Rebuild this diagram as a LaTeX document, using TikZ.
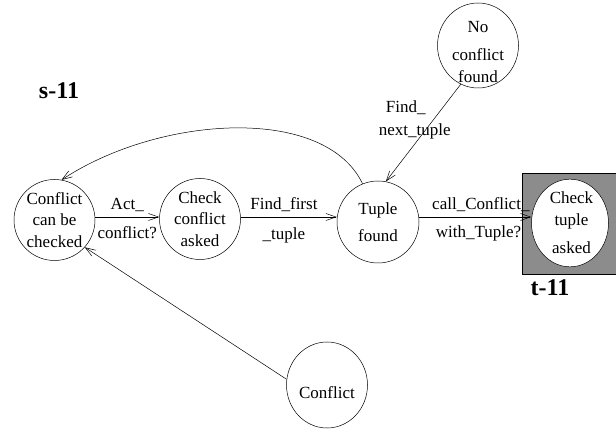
\documentclass[tikz,border=0pt]{standalone}
\usepackage{fontspec}
\setmainfont{Liberation Serif}
\usetikzlibrary{arrows.meta,shapes.geometric}
\begin{document}
\begin{tikzpicture}[x=1pt,y=-1pt,
  state/.style={draw,circle,minimum size=81pt,inner sep=0pt,align=center,font=\fontsize{17}{21.5}\selectfont,fill=white,line width=0.5pt},
  lbl/.style={font=\fontsize{17}{20}\selectfont,inner sep=0pt},
  big/.style={font=\bfseries\fontsize{24}{26}\selectfont},
  arr/.style={-{Straight Barb[length=10pt,width=7pt]},line width=0.5pt}]
\useasboundingbox (0,0) rectangle (616,430);
\fill[black!45,draw=black,line width=0.5pt] (522,173) rectangle (616,274);
\node[state] (ccc) at (54.5,220) {Conflict\\can be\\checked};
\node[state] (cca) at (200,219) {Check\\conflict\\asked};
\node[state,minimum size=82pt] (tf) at (378,222) {Tuple\\[5pt]found};
\node[state,ellipse,minimum width=81pt,minimum height=85pt,align=none] (ncf) at (478,45.5) {\raisebox{-12pt}[0pt][0pt]{\begin{tabular}{@{}c@{}}No\\[7pt]conflict\\found\end{tabular}}};
\node[state,ellipse,minimum width=77pt,minimum height=82pt] (cta) at (570,223) {\hspace{3pt}Check\\\hspace{3pt}tuple\\[7pt]\hspace{3pt}asked};
\node[state,ellipse,minimum width=81pt,minimum height=86pt] (c) at (327,385) {\rule{0pt}{28pt}Conflict};
\node[big] (s11) at (59,91) {s-11};
\node[big] (t11) at (550,288) {t-11};
\draw[arr] (ccc.east |- 0,217) -- (cca.west |- 0,217)
  node[lbl,midway,yshift=12pt] {Act\_} node[lbl,midway,yshift=-16pt] {conflict?};
\draw[arr] (cca.east |- 0,217) -- (tf.west |- 0,217)
  node[lbl,pos=0.45,yshift=12pt] {Find\_first} node[lbl,pos=0.45,yshift=-18pt] {\_tuple};
\draw[arr] (tf.east |- 0,217) -- (cta.west |- 0,217)
  node[lbl,pos=0.55,yshift=12pt] {call\_Conflict\_} node[lbl,pos=0.53,yshift=-16pt] {with\_Tuple?};
\draw[arr] (ncf.246) -- (tf.79)
  node[lbl,pos=0.36,xshift=-19pt,yshift=-1pt,align=center] {\hspace*{-18pt}Find\_\\[3pt]next\_tuple};
\draw[arr] (tf.112) .. controls (325,105) and (160,115) .. (ccc.80);
\draw[arr] (c.172) -- (ccc.-42);
\end{tikzpicture}
\end{document}
